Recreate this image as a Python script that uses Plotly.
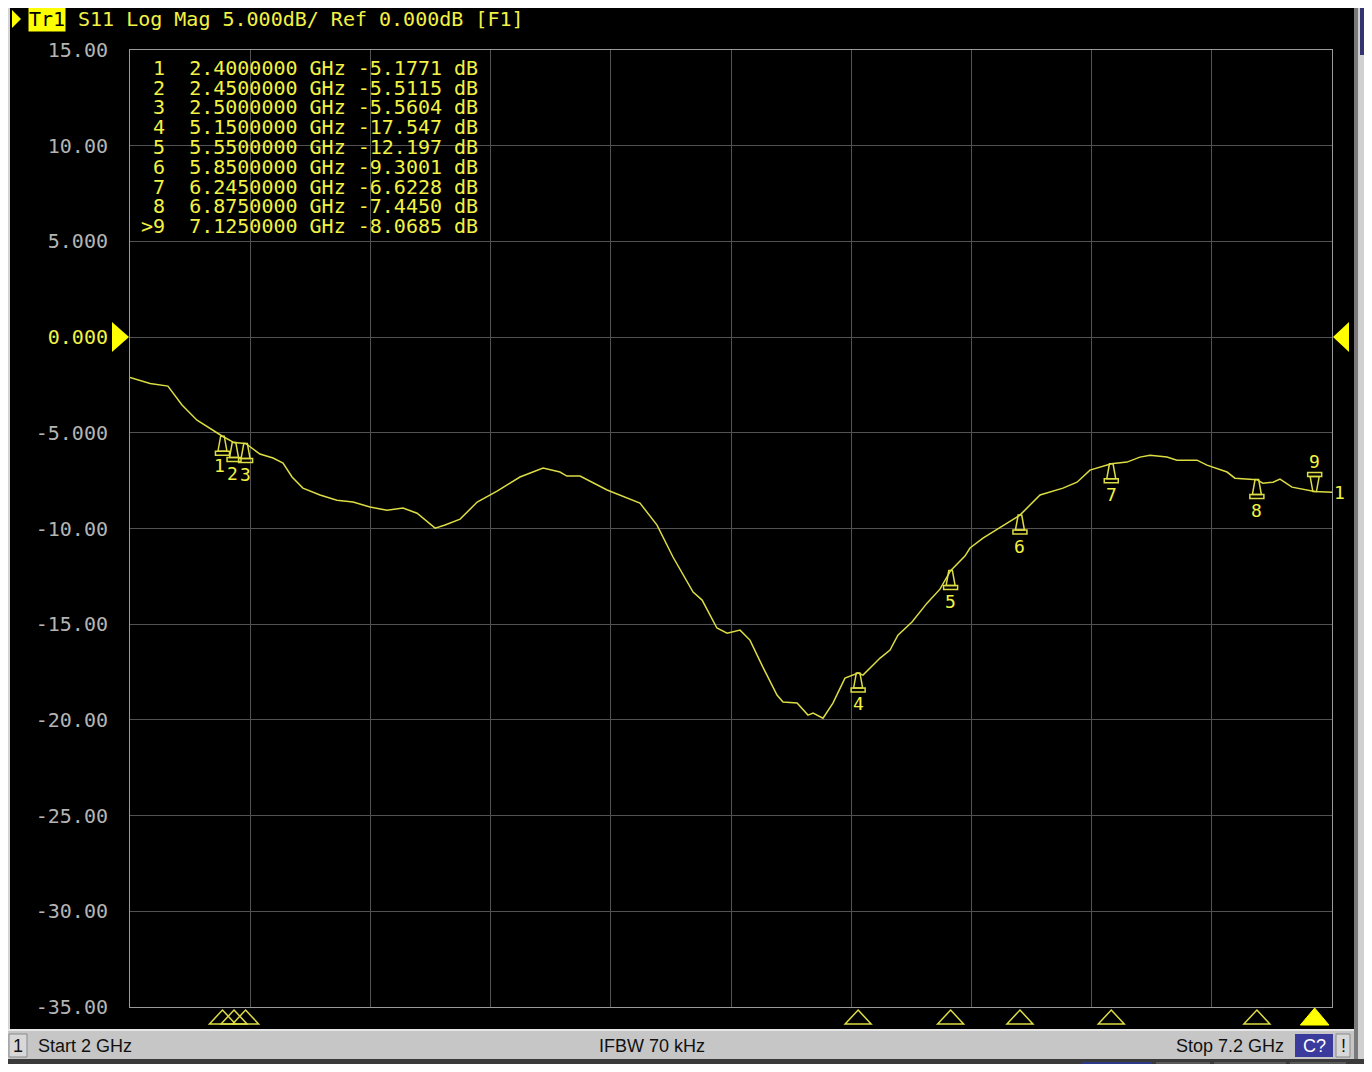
import plotly.graph_objects as go

# ---------------- data ----------------
freq_ghz = [2.000, 2.087, 2.164, 2.225, 2.290, 2.400, 2.450, 2.500, 2.562, 2.619,
            2.662, 2.701, 2.748, 2.822, 2.895, 2.965, 3.038, 3.112, 3.181, 3.242,
            3.320, 3.363, 3.428, 3.502, 3.588, 3.687, 3.787, 3.860, 3.890, 3.947,
            4.064, 4.206, 4.280, 4.349, 4.436, 4.475, 4.539, 4.583, 4.639, 4.682,
            4.738, 4.799, 4.825, 4.886, 4.933, 4.955, 4.998, 5.041, 5.093, 5.150,
            5.171, 5.245, 5.288, 5.322, 5.383, 5.448, 5.504, 5.550, 5.612, 5.634,
            5.690, 5.764, 5.850, 5.937, 6.036, 6.097, 6.153, 6.245, 6.313, 6.369,
            6.413, 6.486, 6.529, 6.616, 6.659, 6.746, 6.780, 6.875, 6.901, 6.945,
            6.975, 7.027, 7.092, 7.125, 7.200]
s11_db = [-2.11, -2.42, -2.56, -3.55, -4.34, -5.18, -5.51, -5.56, -6.11, -6.32,
          -6.58, -7.31, -7.89, -8.25, -8.52, -8.62, -8.88, -9.04, -8.93, -9.20,
          -9.98, -9.82, -9.51, -8.62, -8.05, -7.31, -6.84, -7.05, -7.26, -7.26,
          -7.99, -8.67, -9.82, -11.49, -13.32, -13.74, -15.20, -15.47, -15.31, -15.83,
          -17.24, -18.70, -19.07, -19.12, -19.75, -19.64, -19.91, -19.12, -17.82, -17.55,
          -17.66, -16.77, -16.35, -15.57, -14.89, -13.90, -13.17, -12.20, -11.44, -11.02,
          -10.50, -9.93, -9.30, -8.25, -7.89, -7.58, -6.95, -6.62, -6.53, -6.27,
          -6.17, -6.27, -6.43, -6.43, -6.69, -7.05, -7.37, -7.45, -7.63, -7.58,
          -7.42, -7.84, -7.99, -8.07, -8.10]

marker_ids = ["1", "2", "3", "4", "5", "6", "7", "8", "9"]
marker_freq = [2.40, 2.45, 2.50, 5.15, 5.55, 5.85, 6.245, 6.875, 7.125]
marker_db = [-5.1771, -5.5115, -5.5604, -17.547, -12.197, -9.3001, -6.6228, -7.4450, -8.0685]
active_marker = "9"
marker_rows = [
    " 1  2.4000000 GHz -5.1771 dB",
    " 2  2.4500000 GHz -5.5115 dB",
    " 3  2.5000000 GHz -5.5604 dB",
    " 4  5.1500000 GHz -17.547 dB",
    " 5  5.5500000 GHz -12.197 dB",
    " 6  5.8500000 GHz -9.3001 dB",
    " 7  6.2450000 GHz -6.6228 dB",
    " 8  6.8750000 GHz -7.4450 dB",
    ">9  7.1250000 GHz -8.0685 dB",
]

y_tickvals = [-35, -30, -25, -20, -15, -10, -5, 0, 5, 10, 15]
y_ticktext = ["-35.00", "-30.00", "-25.00", "-20.00", "-15.00", "-10.00", "-5.000",
              "<span style='color:#f2f244'>0.000</span>", "5.000", "10.00", "15.00"]

header_text = "S11 Log Mag 5.000dB/ Ref 0.000dB [F1]"
status_left = "Start 2 GHz"
status_mid = "IFBW 70 kHz"
status_right = "Stop 7.2 GHz"

# ---------------- styling ----------------
YEL = "#f2f244"
TRACE = "#dcdc44"
MONO = "DejaVu Sans Mono"
X_RANGE = [2.0, 7.2]
Y_RANGE = [-35, 15]
# the page shows the figure 8 px in from the window corner, so the figure is
# 16 px smaller than the window; all positions below are window pixels
OFF = 8
W, H = 1372 - 2 * OFF, 1072 - 2 * OFF
PL, PR, PT, PB = 130, 1332, 50, 1007          # plot area in window pixels
PW, PH = PR - PL, PB - PT
L, T = PL - OFF, PT - OFF
R, B = W - L - PW, H - T - PH
GHZ_PER_PX = (X_RANGE[1] - X_RANGE[0]) / PW
DB_PER_PX = (Y_RANGE[1] - Y_RANGE[0]) / PH


def PX(x):
    return (x - PL) / PW


def PY(y):
    return (PB - y) / PH


fig = go.Figure()

# main trace
fig.add_trace(go.Scatter(x=freq_ghz, y=s11_db, mode="lines",
                         line=dict(color=TRACE, width=1.5), hoverinfo="skip"))

shapes = []


def glyph_path(f, d, pts):
    """closed path around a data point; pts are pixel offsets (y down)."""
    return "M" + " L".join(f"{f + dx * GHZ_PER_PX},{d - dy * DB_PER_PX}"
                           for dx, dy in pts) + " Z"


# marker glyphs on the trace (inactive: below the point, active: above)
for mid, f, d in zip(marker_ids, marker_freq, marker_db):
    s = -1 if mid == active_marker else 1
    body = [(-1.8, 0), (1.8, 0), (4.5, 15 * s), (-4.5, 15 * s)]
    base = [(-7, 15 * s), (7, 15 * s), (7, 19 * s), (-7, 19 * s)]
    for pts in (body, base):
        shapes.append(dict(type="path", xref="x", yref="y", path=glyph_path(f, d, pts),
                           line=dict(color=TRACE, width=1.5), layer="above"))

# marker number labels
for mid, f, d in zip(marker_ids, marker_freq, marker_db):
    if mid == active_marker:
        fig.add_annotation(x=f, y=d, text=mid, showarrow=False, yshift=30,
                           font=dict(family=MONO, size=18, color=YEL))
    else:
        xs = {"1": -3, "2": -2, "3": 0}.get(mid, 0)
        ys = {"1": -29}.get(mid, -31)
        fig.add_annotation(x=f, y=d, text=mid, showarrow=False, yshift=ys, xshift=xs,
                           font=dict(family=MONO, size=18, color=YEL))

# marker positions under the x axis
for mid, f in zip(marker_ids, marker_freq):
    hw = 13 * GHZ_PER_PX
    if mid == active_marker:
        p = f"M{f},{PY(1008)} L{f + hw * 1.1},{PY(1025)} L{f - hw * 1.1},{PY(1025)} Z"
        shapes.append(dict(type="path", xref="x", yref="paper", path=p,
                           fillcolor="#ffff00", line=dict(color="#ffff00", width=1),
                           layer="above"))
    else:
        p = f"M{f},{PY(1010)} L{f + hw},{PY(1024)} L{f - hw},{PY(1024)} Z"
        shapes.append(dict(type="path", xref="x", yref="paper", path=p,
                           line=dict(color=TRACE, width=1.5), layer="above"))

# trace number at the right end
fig.add_annotation(x=freq_ghz[-1], y=s11_db[-1], text="1", showarrow=False,
                   xanchor="left", xshift=0, font=dict(family=MONO, size=18, color=YEL))

# marker table
for i, row in enumerate(marker_rows):
    fig.add_annotation(xref="paper", yref="paper", x=PX(139), y=PY(68 + i * 19.75),
                       xanchor="left", yanchor="middle", text=row.replace(" ", "&nbsp;"),
                       showarrow=False, font=dict(family=MONO, size=20, color=YEL))


def rect(x0, y0, x1, y1, fill, line=None, lw=0):
    shapes.append(dict(type="rect", xref="paper", yref="paper",
                       x0=PX(x0), x1=PX(x1), y0=PY(y1), y1=PY(y0),
                       fillcolor=fill, line=dict(color=line or fill, width=lw),
                       layer="above"))


def poly(pts, fill):
    p = "M" + " L".join(f"{PX(x)},{PY(y)}" for x, y in pts) + " Z"
    shapes.append(dict(type="path", xref="paper", yref="paper", path=p,
                       fillcolor=fill, line=dict(color=fill, width=0), layer="above"))


# window frame pieces
rect(0, 0, 10, 1032, "#d4d4d4")
rect(1354, 0, 1358, 1060, "#7a7a7a")
rect(1358, 0, 1372, 1060, "#d0d0d0")
rect(1360, 8, 1370, 55, "#33336e")
rect(0, 1030, 1354, 1060, "#c6c6c6")
rect(0, 1029, 1354, 1031, "#e6e6e6")
rect(0, 1059, 1372, 1072, "#3a3a3a")
rect(1082, 1062, 1152, 1072, "#2c3a88")
rect(1156, 1062, 1210, 1072, "#5a5a5a")
rect(1214, 1062, 1286, 1072, "#5a5a5a")
rect(1290, 1062, 1346, 1072, "#5a5a5a")
# status bar boxes
rect(9, 1034, 27, 1057, "#d8d8d8", "#8a8a8a", 1)
rect(1295, 1034, 1333, 1057, "#3b3b9e")
rect(1336, 1034, 1350, 1057, "#d8d8d8", "#8a8a8a", 1)

# header pointer
poly([(12, 10), (21, 19), (12, 28)], "#ffff00")
# reference level arrows at 0 dB
poly([(112, 322), (129, 337), (112, 352)], "#ffff00")
poly([(1349, 322), (1333, 337), (1349, 352)], "#ffff00")

fig.update_layout(shapes=shapes)

fig.add_annotation(xref="paper", yref="paper", x=PX(28), y=PY(19), xanchor="left",
                   yanchor="middle", text="Tr1", showarrow=False, bgcolor="#ffff00",
                   borderpad=0, font=dict(family=MONO, size=20, color="#000000"))
fig.add_annotation(xref="paper", yref="paper", x=PX(76), y=PY(19), xanchor="left",
                   yanchor="middle", text=header_text.replace(" ", "&nbsp;"),
                   showarrow=False, font=dict(family=MONO, size=20, color=YEL))

# status bar texts
SANS = "Liberation Sans"


def status(x, text, anchor, color="#111111"):
    fig.add_annotation(xref="paper", yref="paper", x=PX(x), y=PY(1046), text=text,
                       xanchor=anchor, yanchor="middle", showarrow=False,
                       font=dict(family=SANS, size=18, color=color))


status(18, "1", "center")
status(36, status_left, "left")
status(652, status_mid, "center")
status(1286, status_right, "right")
status(1314, "C?", "center", "#ffffff")
status(1343, "!", "center")

fig.update_xaxes(range=X_RANGE, tick0=X_RANGE[0], dtick=0.52, showticklabels=False,
                 showgrid=True, gridcolor="#525252", gridwidth=1, zeroline=False,
                 showline=True, mirror=True, linecolor="#9a9a9a", linewidth=1, ticks="")
fig.update_yaxes(range=Y_RANGE, tickvals=y_tickvals, ticktext=y_ticktext,
                 showgrid=True, gridcolor="#525252", gridwidth=1, zeroline=False,
                 showline=True, mirror=True, linecolor="#9a9a9a", linewidth=1, ticks="",
                 ticklabelstandoff=17,
                 tickfont=dict(family=MONO, size=20, color="#b4b4b4"))

fig.update_layout(width=W, height=H, margin=dict(l=L, r=R, t=T, b=B),
                  paper_bgcolor="#000000", plot_bgcolor="#000000",
                  showlegend=False)

fig.write_html("out.html")
